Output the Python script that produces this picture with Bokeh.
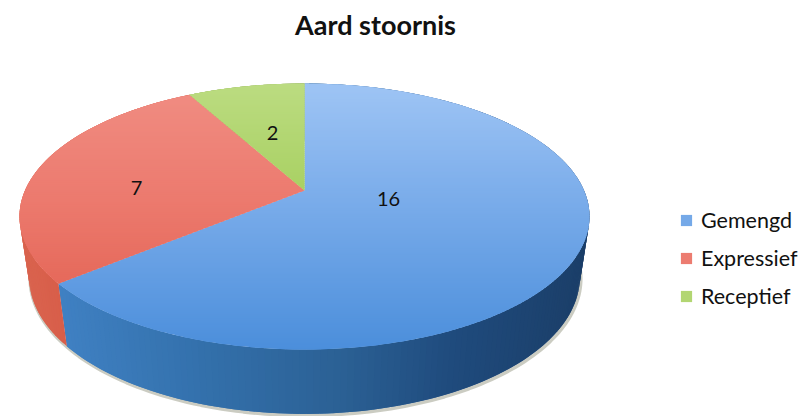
import numpy as np
from bokeh.core.properties import value
from bokeh.embed import file_html
from bokeh.models import Legend, LegendItem
from bokeh.plotting import figure
from bokeh.resources import INLINE

# Chart data
title = "Aard stoornis"
categories = ["Gemengd", "Expressief", "Receptief"]
counts = [16, 7, 2]

# Colour stops per slice: top face runs light-to-dark downward, side runs left-to-right
top_stops = {
    "Gemengd": [(90, "#9cc3f4"), (200, "#7aacea"), (350, "#4b8edb")],
    "Expressief": [(90, "#f08c82"), (200, "#ec7a6e"), (350, "#e05c4b")],
    "Receptief": [(80, "#bcdc82"), (195, "#a8d062")],
}
side_stops = {
    "Gemengd": [(60, "#3f80c2"), (200, "#3370ab"), (340, "#2b6094"), (450, "#1f4b7d"), (590, "#1b3e68")],
    "Expressief": [(15, "#d9644f"), (70, "#d85c48")],
    "Receptief": [(15, "#8aa84f"), (300, "#8aa84f")],
}
label_anchor = {"Gemengd": (388, 198), "Expressief": (136, 187), "Receptief": (272, 132)}

# Perspective disc: unit-circle point (u, v) maps to the page through a projective divide
CX, TILT = 304.0, 0.1955
TOP_FACE = dict(radius=279.5, a=-90.8, b=190.0)
BOTTOM_FACE = dict(radius=270.0, a=-82.6, b=250.0)


def project(theta, r, face):
    u, v = r * np.sin(theta), r * np.cos(theta)
    d = 1 + TILT * v
    return CX + face["radius"] * u / d, (face["a"] * v + face["b"]) / d


def hex_rgb(h):
    return np.array([int(h[i:i + 2], 16) for i in (1, 3, 5)], dtype=float)


def ramp(stops, t):
    xs = [s[0] for s in stops]
    rgb = np.array([hex_rgb(s[1]) for s in stops])
    c = [np.interp(t, xs, rgb[:, i]) for i in range(3)]
    return "#%02x%02x%02x" % tuple(int(round(k)) for k in c)


def clip_band(xs, ys, y0, y1):
    # Clip a closed polygon to a horizontal band, one half-plane at a time
    def half(px, py, keep, cross):
        ox, oy = [], []
        for i in range(len(px)):
            ax, ay, bx, by = px[i], py[i], px[(i + 1) % len(px)], py[(i + 1) % len(px)]
            if keep(ay):
                ox.append(ax); oy.append(ay)
            if keep(ay) != keep(by):
                t = (cross - ay) / (by - ay)
                ox.append(ax + t * (bx - ax)); oy.append(cross)
        return ox, oy
    px, py = half(list(xs), list(ys), lambda y: y >= y0, y0)
    if px:
        px, py = half(px, py, lambda y: y <= y1, y1)
    return px, py


p = figure(width=801, height=416, x_range=(0, 801), y_range=(416, 0),
           output_backend="svg", toolbar_location=None, min_border=0,
           background_fill_color="white", border_fill_color="white", outline_line_color=None)
p.xaxis.visible = False
p.yaxis.visible = False
p.grid.visible = False

# Slice angles, clockwise from twelve o'clock
total = sum(counts)
edges = np.concatenate([[0], np.cumsum(counts)]) / total * 2 * np.pi

# Soft contact shadow under the lower rim
sx, sy = project(np.linspace(np.pi * 0.42, np.pi * 1.55, 160), 1.0, BOTTOM_FACE)
p.line(sx + 1, sy + 1.5, line_color="#8c8f78", line_width=3.5, line_alpha=0.45)

# Side wall, drawn as overlapping narrow quads between the two rims
for i, name in enumerate(categories):
    th = np.linspace(edges[i], edges[i + 1], max(4, int((edges[i + 1] - edges[i]) * 50)))
    step = th[1] - th[0]
    qx, qy, qc = [], [], []
    for t0, t1 in zip(th[:-1], th[1:]):
        t1 = min(t1 + step, edges[i + 1])
        x0, y0 = project(t0, 1.0, TOP_FACE)
        x1, y1 = project(t1, 1.0, TOP_FACE)
        x2, y2 = project(t1, 1.0, BOTTOM_FACE)
        x3, y3 = project(t0, 1.0, BOTTOM_FACE)
        qx.append([x0, x1, x2, x3]); qy.append([y0, y1, y2, y3])
        qc.append(ramp(side_stops[name], (x0 + x1) / 2))
    p.patches(qx, qy, fill_color=qc, line_color=None)

# Top face: each slice is cut into overlapping horizontal bands to carry the vertical shading
items = []
for i, name in enumerate(categories):
    th = np.linspace(edges[i], edges[i + 1], 200)
    rx, ry = project(th, 1.0, TOP_FACE)
    ax, ay = project(np.array([0.0]), 0.0, TOP_FACE)
    wx, wy = np.concatenate([ax, rx]), np.concatenate([ay, ry])
    bx, by, bc = [], [], []
    for y in np.arange(np.floor(wy.min()), np.ceil(wy.max()), 2.0):
        px, py = clip_band(wx, wy, y, y + 3.5)
        if len(px) >= 3:
            bx.append(px); by.append(py)
            bc.append(ramp(top_stops[name], y + 1.0))
    r = p.patches(bx, by, fill_color=bc, line_color=None)
    items.append(LegendItem(label=name, renderers=[r], index=len(bx) // 2))

# Value labels on the slices
for name, n in zip(categories, counts):
    ax, ay = label_anchor[name]
    p.text([ax], [ay], text=[str(n)], text_font=value("Lato"), text_font_size="20px",
           text_color="#111111", text_align="center", text_baseline="middle")

p.text([375], [24], text=[title], text_font=value("Lato"), text_font_size="27px",
       text_font_style="bold", text_color="#111111", text_align="center", text_baseline="middle")

legend = Legend(items=items, location=(679, 107), orientation="vertical",
                background_fill_alpha=0, border_line_color=None, padding=0, margin=0,
                glyph_width=14, glyph_height=14, label_standoff=8, spacing=12,
                label_height=20, label_text_font="Lato", label_text_font_size="21.5px",
                label_text_color="#111111", label_text_baseline="middle")
p.add_layout(legend)

open("out.html", "w").write(file_html(p, INLINE))
